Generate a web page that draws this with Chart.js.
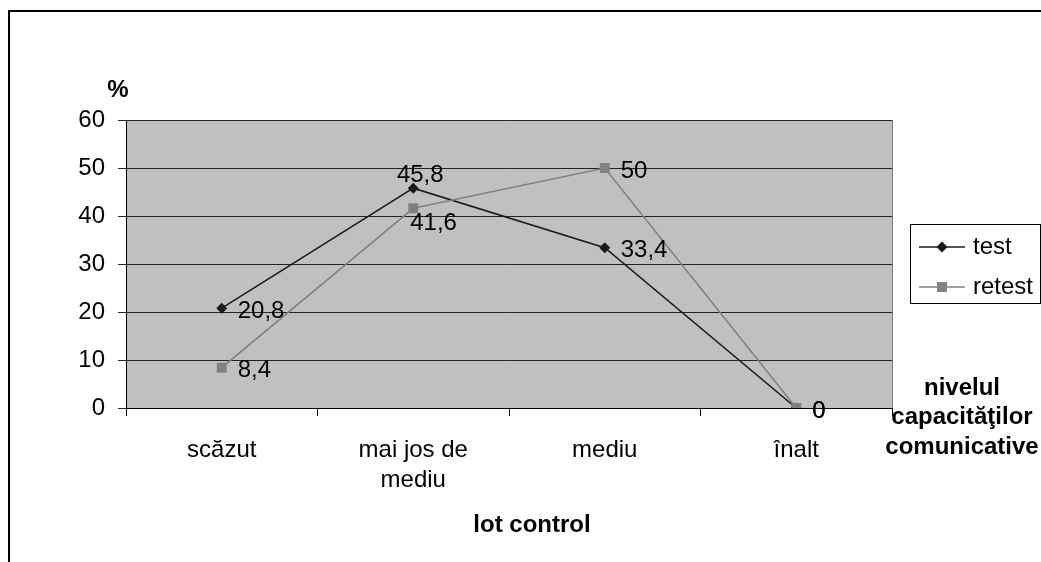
<!DOCTYPE html>
<html>
<head>
<meta charset="utf-8">
<script src="https://cdn.jsdelivr.net/npm/chart.js@4"></script>
<style>
  body { margin: 0; background: #fff; }
  #wrap { width: 1041px; height: 562px; }
</style>
</head>
<body>
<div id="wrap"><canvas id="nivelChart" width="1041" height="562"></canvas></div>
<script>
var categories = ['scăzut', ['mai jos de', 'mediu'], 'mediu', 'înalt'];
var testData = [20.8, 45.8, 33.4, 0];
var retestData = [8.4, 41.6, 50, 0];
var yTicks = { min: 0, max: 60, step: 10 };

// where each value label sits relative to its point
var testLabelPos = ['right', 'above', 'right', 'right'];
var retestLabelPos = ['right', 'below', 'right', 'right'];

var FONT = '"Liberation Sans", Arial, sans-serif';
var FS = 24;

var decor = {
    id: 'decor',
    beforeDraw: function (chart) {
        var ctx = chart.ctx, a = chart.chartArea;
        ctx.save();
        ctx.fillStyle = '#fff';
        ctx.fillRect(0, 0, chart.width, chart.height);
        ctx.fillStyle = '#c0c0c0';
        ctx.fillRect(a.left, a.top, a.right - a.left, a.bottom - a.top);
        // outer frame
        ctx.strokeStyle = '#000';
        ctx.lineWidth = 2;
        ctx.beginPath();
        ctx.moveTo(9, chart.height + 5);
        ctx.lineTo(9, 11);
        ctx.lineTo(chart.width + 5, 11);
        ctx.stroke();
        ctx.restore();
    },
    afterDraw: function (chart) {
        var ctx = chart.ctx, a = chart.chartArea;
        ctx.save();
        // right edge of plot
        ctx.strokeStyle = '#808080';
        ctx.lineWidth = 1;
        ctx.beginPath();
        ctx.moveTo(a.right + 0.5, a.top);
        ctx.lineTo(a.right + 0.5, a.bottom);
        ctx.stroke();

        // axis titles
        ctx.fillStyle = '#000';
        ctx.font = 'bold ' + FS + 'px ' + FONT;
        ctx.textAlign = 'center';
        ctx.textBaseline = 'middle';
        ctx.fillText('%', 118, 90);
        ctx.fillText('lot control', 532, 525);
        ctx.fillText('nivelul', 962, 388);
        ctx.fillText('capacităţilor', 962, 417);
        ctx.fillText('comunicative', 962, 447);

        // legend
        ctx.strokeStyle = '#000';
        ctx.strokeRect(910.5, 224.5, 130, 79);
        var items = [
            { text: 'test', color: '#1a1a1a', style: 'rectRot', r: 5.5, y: 247 },
            { text: 'retest', color: '#808080', style: 'rect', r: 7, y: 287 }
        ];
        items.forEach(function (it) {
            ctx.strokeStyle = it.color;
            ctx.lineWidth = 1.5;
            ctx.beginPath();
            ctx.moveTo(919, it.y);
            ctx.lineTo(965, it.y);
            ctx.stroke();
            ctx.fillStyle = it.color;
            Chart.helpers.drawPoint(ctx, { pointStyle: it.style, radius: it.r, borderWidth: 0 }, 942, it.y);
            ctx.fillStyle = '#000';
            ctx.font = FS + 'px ' + FONT;
            ctx.textAlign = 'left';
            ctx.fillText(it.text, 973, it.y);
        });
        ctx.restore();
    },
    afterDatasetsDraw: function (chart) {
        var ctx = chart.ctx;
        var positions = [testLabelPos, retestLabelPos];
        ctx.save();
        ctx.fillStyle = '#000';
        ctx.font = FS + 'px ' + FONT;
        chart.data.datasets.forEach(function (ds, di) {
            var meta = chart.getDatasetMeta(di);
            meta.data.forEach(function (pt, i) {
                var txt = String(ds.data[i]).replace('.', ',');
                var pos = positions[di][i];
                ctx.textBaseline = 'middle';
                if (pos === 'above') {
                    ctx.textAlign = 'center';
                    ctx.fillText(txt, pt.x + 7, pt.y - 13);
                } else if (pos === 'below') {
                    ctx.textAlign = 'left';
                    ctx.fillText(txt, pt.x - 3, pt.y + 15);
                } else {
                    ctx.textAlign = 'left';
                    ctx.fillText(txt, pt.x + 16, pt.y + 3);
                }
            });
        });
        ctx.restore();
    }
};

var nivelChart = new Chart(document.getElementById('nivelChart').getContext('2d'), {
    type: 'line',
    data: {
        labels: categories,
        datasets: [{
            label: 'test',
            data: testData,
            borderColor: '#1a1a1a',
            backgroundColor: '#1a1a1a',
            borderWidth: 1.5,
            pointStyle: 'rectRot',
            pointRadius: 5.5,
            pointBorderWidth: 0,
            tension: 0,
            fill: false,
            order: 1
        }, {
            label: 'retest',
            data: retestData,
            borderColor: '#808080',
            backgroundColor: '#808080',
            borderWidth: 1.5,
            pointStyle: 'rect',
            pointRadius: 7,
            pointBorderWidth: 0,
            tension: 0,
            fill: false,
            order: 0
        }]
    },
    options: {
        responsive: false,
        animation: false,
        layout: { padding: { top: 120, right: 149, left: 0, bottom: 0 } },
        plugins: {
            legend: { display: false },
            tooltip: { enabled: false }
        },
        scales: {
            x: {
                offset: true,
                grid: { display: true, drawOnChartArea: false, drawTicks: true, tickLength: 8, offset: true, color: '#000' },
                border: { display: true, color: '#000', width: 1 },
                ticks: { color: '#000', font: { family: FONT, size: FS, lineHeight: 1.25 }, padding: 19, maxRotation: 0, autoSkip: false },
                afterFit: function (s) { s.height = 154; }
            },
            y: {
                min: yTicks.min,
                max: yTicks.max,
                grid: { color: '#222', lineWidth: 1, drawTicks: true, tickLength: 8 },
                border: { display: true, color: '#000', width: 1 },
                ticks: { stepSize: yTicks.step, color: '#000', font: { family: FONT, size: FS }, padding: 13 },
                afterFit: function (s) { s.width = 126; }
            }
        }
    },
    plugins: [decor]
});
</script>
</body>
</html>
